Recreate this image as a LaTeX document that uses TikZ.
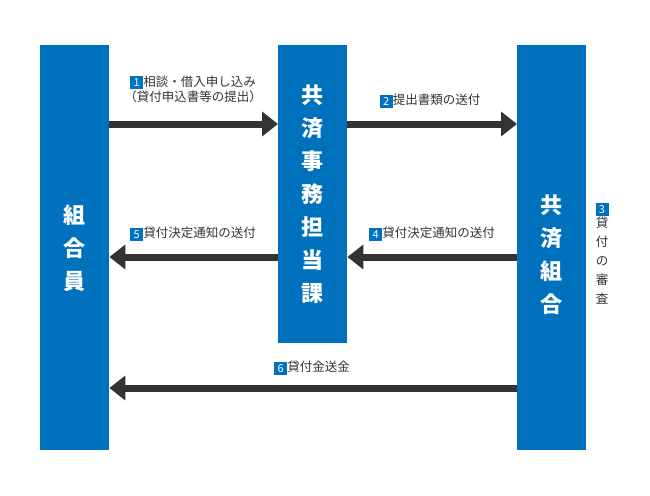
\documentclass[tikz,border=0pt]{standalone}
\usepackage{fontspec}
\setmainfont{Noto Sans CJK JP}
\usetikzlibrary{positioning,arrows.meta}
\definecolor{barblue}{HTML}{0071BC}
\definecolor{arrowgray}{HTML}{333333}
\newcommand{\num}[1]{\tikz[baseline=-0.5ex]\node[fill=barblue,text=white,inner sep=0pt,minimum size=13pt,font=\fontsize{11}{11}\selectfont]{#1};}

\begin{document}
\begin{tikzpicture}[x=1pt,y=-1pt,
  bar/.style={fill=barblue,text=white,minimum width=69pt,anchor=north west,
    inner sep=0pt,align=center,font=\fontsize{22}{33}\selectfont\bfseries},
  flow/.style={draw=arrowgray,line width=7pt,-{Triangle[length=16pt,width=24pt]}},
  lbl/.style={font=\fontsize{12.5}{15}\selectfont,text=arrowgray,align=center,inner sep=0pt}]
  \useasboundingbox (0,0) rectangle (650,495);
  \node[bar,minimum height=405pt] (member) at (40,45) {組\\合\\員};
  \node[bar,minimum height=298pt] (office) at (278,45) {共\\済\\事\\務\\担\\当\\課};
  \node[bar,minimum height=405pt] (union) at (517,45) {};
  \node[bar,anchor=center,minimum width=0pt] (unionname) at (551.5,255) {共\\済\\組\\合};
  \coordinate (r1) at (0,124);
  \coordinate (r2) at (0,257);
  \coordinate (r3) at (0,388);
  \draw[flow] (member.east |- r1) -- (office.west |- r1);
  \draw[flow] (office.east |- r1) -- (union.west |- r1);
  \draw[flow] (union.west |- r2) -- (office.east |- r2);
  \draw[flow] (office.west |- r2) -- (member.east |- r2);
  \draw[flow] (union.west |- r3) -- (member.east |- r3);
  \node[lbl] (l1) at (193,89) {\num{1}相談・借入申し込み\\（貸付申込書等の提出）};
  \node[lbl] (l2) at (430,101) {\num{2}提出書類の送付};
  \node[lbl] (l5) at (193,234) {\num{5}貸付決定通知の送付};
  \node[lbl] (l4) at (432,234) {\num{4}貸付決定通知の送付};
  \node[lbl] (l6) at (312,368) {\num{6}貸付金送金};
  \node[lbl,anchor=north,font=\fontsize{12.5}{19}\selectfont] (l3) at (602,203) {\num{3}\\貸\\付\\の\\審\\査};
\end{tikzpicture}
\end{document}
